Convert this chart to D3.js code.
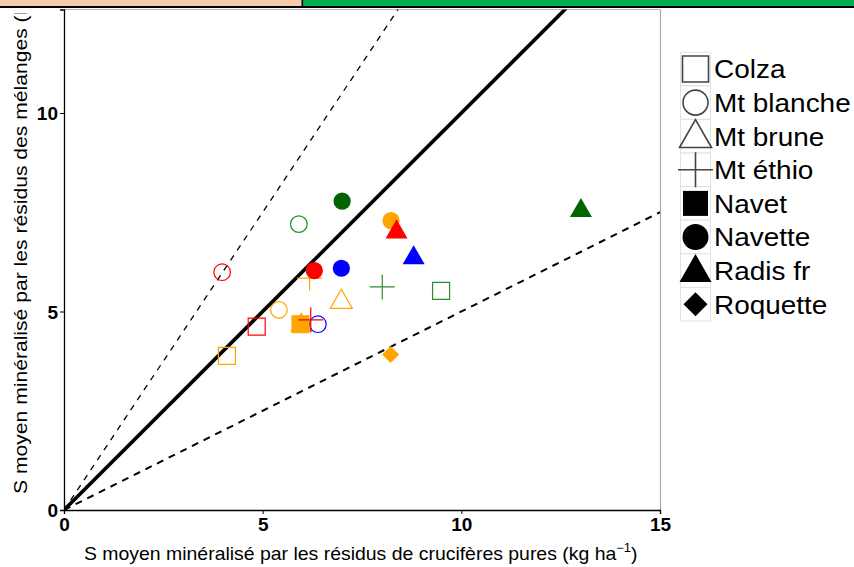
<!DOCTYPE html>
<html><head><meta charset="utf-8">
<script src="https://cdn.jsdelivr.net/npm/d3@7"></script>
<style>body{margin:0;background:#fff}svg{display:block}</style>
</head><body>
<svg id="c" width="854" height="567"></svg>
<script>
// ---- data ----
const species = ["Colza","Mt blanche","Mt brune","Mt éthio","Navet","Navette","Radis fr","Roquette"];
const shapes  = ["squareOpen","circleOpen","triangleOpen","plus","squareFill","circleFill","triangleFill","diamond"];
const colorNames = {red:"#ff0000", blue:"#0000ff", orange:"#ffa500", green:"#2e8b2e", dkgreen:"#006400"};
// points: species, colour, x (pure residues), y (mixtures)
const ptSpecies = ["Colza","Colza","Colza","Mt blanche","Mt blanche","Mt blanche","Mt blanche","Mt brune","Mt éthio","Mt éthio","Mt éthio","Navet","Navette","Navette","Navette","Navette","Radis fr","Radis fr","Radis fr","Radis fr","Roquette"];
const ptColour  = ["red","orange","green","red","green","orange","blue","orange","green","orange","red","orange","dkgreen","red","blue","orange","red","blue","dkgreen","orange","orange"];
const ptX = [4.85,4.10,9.49,3.98,5.91,5.41,6.39,6.98,8.01,6.18,6.21,5.95,7.00,6.30,6.98,8.23,8.37,8.80,13.01,5.97,8.22];
const ptY = [4.62,3.88,5.52,5.99,7.20,5.04,4.68,5.24,5.62,5.84,4.79,4.68,7.78,6.03,6.09,7.29,7.00,6.35,7.54,4.66,3.92];
const drawOrder = [3,4,5,6,0,1,2,7,9,12,13,14,15,16,17,18,19,11,10,8,20];
const xTicks = [0,5,10,15];
const yTicks = [0,5,10];
const refSlopes = [1, 1.5, 0.5];

const svg = d3.select("#c");
const L=64, R=660, B=510, T=9.5;
const FONT = "Liberation Sans, Arial, sans-serif";
const x = d3.scaleLinear().domain([0,15]).range([L,R]);
const y = d3.scaleLinear().domain([0,(B-T)/39.7]).range([B,T]);

// panel border (right/top grey)
svg.append("line").attr("x1",R+0.5).attr("x2",R+0.5).attr("y1",T).attr("y2",B).attr("stroke","#aaa").attr("stroke-width",1.2);
svg.append("line").attr("x1",L).attr("x2",R).attr("y1",T).attr("y2",T).attr("stroke","#bbb").attr("stroke-width",1);

svg.append("clipPath").attr("id","clp").append("rect").attr("x",L).attr("y",T).attr("width",R-L).attr("height",B-T);
svg.append("clipPath").attr("id","clpY").append("rect").attr("x",0).attr("y",13.5).attr("width",L).attr("height",B);
const g = svg.append("g").attr("clip-path","url(#clp)");

// reference lines
const lineStyles = [{w:3.6,d:null},{w:1.3,d:"6,6"},{w:2,d:"7,6"}];
refSlopes.forEach((s,i)=>{
  const ln = g.append("line").attr("x1",x(0)).attr("y1",y(0)).attr("x2",x(15)).attr("y2",y(15*s))
    .attr("stroke","#000").attr("stroke-width",lineStyles[i].w);
  if(lineStyles[i].d) ln.attr("stroke-dasharray",lineStyles[i].d);
});

// custom symbol types
const sym = {
  square:{draw(c,s){const h=Math.sqrt(s)/2;c.moveTo(-h,-h);c.lineTo(h,-h);c.lineTo(h,h);c.lineTo(-h,h);c.closePath();}},
  circle:{draw(c,s){const r=Math.sqrt(s/Math.PI);c.moveTo(r,0);c.arc(0,0,r,0,2*Math.PI);}},
  triangle:{draw(c,s){const w=Math.sqrt(s),h=w*0.87;c.moveTo(0,-h*2/3);c.lineTo(w/2,h/3);c.lineTo(-w/2,h/3);c.closePath();}},
  plus:{draw(c,s){const r=Math.sqrt(s)/2;c.moveTo(-r,0);c.lineTo(r,0);c.moveTo(0,-r);c.lineTo(0,r);}},
  diamond:{draw(c,s){const r=Math.sqrt(s)/2;c.moveTo(0,-r);c.lineTo(r,0);c.lineTo(0,r);c.lineTo(-r,0);c.closePath();}}
};
function shapeInfo(shape){
  switch(shape){
    case "squareOpen": return [sym.square,17**2,false];
    case "squareFill": return [sym.square,18**2,true];
    case "circleOpen": return [sym.circle,Math.PI*8.3**2,false];
    case "circleFill": return [sym.circle,Math.PI*8.6**2,true];
    case "triangleOpen": return [sym.triangle,22**2,false];
    case "triangleFill": return [sym.triangle,22**2,true];
    case "plus": return [sym.plus,25**2,false];
    case "diamond": return [sym.diamond,17**2,true];
  }
}
drawOrder.forEach(i=>{
  const shp = shapes[species.indexOf(ptSpecies[i])];
  const [type,size,filled] = shapeInfo(shp);
  const col = colorNames[ptColour[i]];
  g.append("path").attr("d",d3.symbol().type(type).size(size)())
    .attr("transform",`translate(${x(ptX[i])},${y(ptY[i])})`)
    .attr("fill",filled?col:"none").attr("stroke",filled?"none":col).attr("stroke-width",1.2);
});

// axes
const xa = svg.append("g").attr("transform",`translate(0,${B})`)
  .call(d3.axisBottom(x).tickValues(xTicks).tickSize(4).tickFormat(d3.format("d")));
const ya = svg.append("g").attr("transform",`translate(${L},0)`)
  .call(d3.axisLeft(y).tickValues(yTicks).tickSize(4).tickFormat(d3.format("d")));
[xa,ya].forEach(a=>{
  a.select(".domain").attr("stroke","#000").attr("stroke-width",1.3);
  a.selectAll(".tick line").attr("stroke","#000");
  a.selectAll("text").attr("font-family",FONT).attr("font-size",19).attr("font-weight","bold").attr("fill","#000");
});
xa.selectAll("text").attr("dy",null).attr("y",21);
ya.selectAll("text").attr("x",-6).attr("dy","0.35em");

// axis titles
const xt = svg.append("text").attr("font-family",FONT).attr("font-size",18).attr("fill","#000");
xt.append("tspan").text("S moyen minéralisé par les résidus de crucifères pures (kg ha");
xt.append("tspan").attr("dy",-8).attr("font-size",12).text("−1");
xt.append("tspan").attr("dy",8).text(")");
const xlen = xt.node().getComputedTextLength();
const xs = 554/xlen;
xt.attr("transform",`translate(84,560) scale(${xs},1)`);

const ytg = svg.append("g").attr("clip-path","url(#clpY)");
const yt = ytg.append("text").attr("font-family",FONT).attr("font-size",18).attr("fill","#000");
const ymain = yt.append("tspan").text("S moyen minéralisé par les résidus des mélanges (");
yt.append("tspan").text("kg ha");
yt.append("tspan").attr("dy",-8).attr("font-size",12).text("−1");
yt.append("tspan").attr("dy",8).text(")");
const ylen = ymain.node().getComputedTextLength();
const ys = 479/ylen;
yt.attr("transform",`translate(27,494) rotate(-90) scale(${ys},1)`);

// top banner
svg.append("rect").attr("x",0).attr("y",0).attr("width",302).attr("height",7).attr("fill","#f8cbad");
svg.append("rect").attr("x",303).attr("y",0).attr("width",551).attr("height",7).attr("fill","#00b050");
svg.append("rect").attr("x",0).attr("y",6).attr("width",854).attr("height",2).attr("fill","#000");
svg.append("rect").attr("x",301.5).attr("y",0).attr("width",1.6).attr("height",8).attr("fill","#000");

// legend
const lg = svg.append("g");
species.forEach((sp,i)=>{
  const cy = 69 + 33.6*i;
  lg.append("rect").attr("x",680.5).attr("y",cy-16.8).attr("width",30).attr("height",33.6)
    .attr("fill","#fff").attr("stroke","#e2e2e2").attr("stroke-width",1);
});
species.forEach((sp,i)=>{
  const cy = 69 + 33.6*i;
  const shp = shapes[i];
  const [type,size,filled] = shapeInfo(shp);
  const lsize = {squareOpen:26**2,squareFill:25**2,circleOpen:Math.PI*12.5**2,circleFill:Math.PI*13**2,
                 triangleOpen:32**2,triangleFill:32**2,plus:35**2,diamond:24**2}[shp];
  lg.append("path").attr("d",d3.symbol().type(type).size(lsize)())
    .attr("transform",`translate(695.5,${cy + (shp.startsWith("triangle")?2:0)})`)
    .attr("fill",filled?"#000":"none").attr("stroke",filled?"none":"#444").attr("stroke-width",1.6);
  lg.append("text").attr("transform",`translate(714,${cy}) scale(1.075,1)`).attr("dy","0.36em")
    .attr("font-family",FONT).attr("font-size",26).attr("fill","#000").text(sp);
});
</script>
</body></html>
